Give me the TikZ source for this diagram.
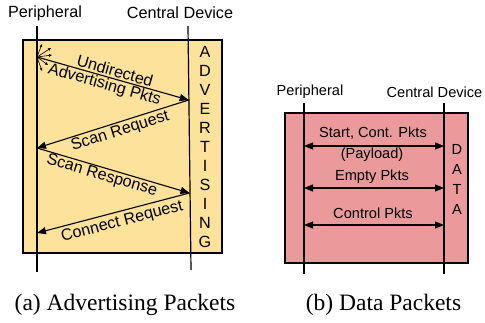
\documentclass[tikz,border=0pt]{standalone}
\usepackage{fontspec}
\setmainfont{Liberation Serif}
\setsansfont{Liberation Sans}
\usetikzlibrary{arrows.meta}
\definecolor{advfill}{HTML}{FDE29C}
\definecolor{datafill}{HTML}{EA9A9A}

\begin{document}
\begin{tikzpicture}[x=1pt,y=-1pt,
  life/.style={line width=1.2pt},
  frame/.style={line width=1.2pt},
  msg/.style={line width=1.1pt,-{Triangle[length=9pt,width=7pt]}},
  both/.style={line width=1.1pt,{Triangle[length=9pt,width=7pt]}-{Triangle[length=9pt,width=7pt]}},
  ray/.style={line width=0.6pt,-{Triangle[length=3pt,width=2.6pt]}},
  lbla/.style={font=\sffamily\fontsize{16.2}{18}\selectfont,inner sep=1.5pt},
  lblb/.style={font=\sffamily\fontsize{14.6}{16}\selectfont,inner sep=1pt},
  captext/.style={font=\fontsize{23.5}{26}\selectfont,inner sep=0pt}]
\useasboundingbox (0,0) rectangle (485,322);

% (a) advertising channel
\fill[advfill] (23,40) rectangle (222,253);
\draw[frame] (23,40) rectangle (222,253);
\node[lbla] (perA) at (45,13) {Peripheral};
\node[lbla] (cenA) at (180,13) {Central Device};
\coordinate (pAtop) at (37,26);
\coordinate (pAbot) at (37,272);
\coordinate (cAtop) at (188,26);
\coordinate (cAbot) at (191,270);
\draw[life] (pAtop) -- (pAbot);
\draw[life] (cAtop) -- (cAbot);
\coordinate (a1) at (37,57);
\coordinate (a2) at (188.7,100);
\coordinate (a3) at (37,148);
\coordinate (a4) at (189.5,193);
\coordinate (a5) at (37,233);
% broadcast burst
\foreach \dx/\dy in {5/-13,14/-9,15/-2,11/8,5/14}
  \draw[ray] (a1) -- ++(\dx,\dy);
\draw[msg] (a1) -- node[lbla,pos=.5,above,sloped] (undir) {Undirected}
  node[lbla,pos=.46,below,sloped,inner sep=0.5pt] (advpk) {Advertising Pkts} (a2);
\draw[msg] (a2) -- node[lbla,pos=.47,below,sloped] (screq) {Scan Request} (a3);
\draw[msg] (a3) -- node[lbla,pos=.44,below,sloped,inner sep=0.5pt] (scrsp) {Scan Response} (a4);
\draw[msg] (a4) -- node[lbla,pos=.46,below,sloped,inner sep=3pt] (conreq) {Connect Request} (a5);
\foreach \c [count=\i from 0] in {A,D,V,E,R,T,I,S,I,N,G}
  \node[lbla] (adv\i) at (205,{52+19*\i}) {\c};
\node[captext] (capA) at (125,305) {(a) Advertising Packets};

% (b) data channel
\fill[datafill] (285,113) rectangle (468,263);
\draw[frame] (285,113) rectangle (468,263);
\node[lblb] (perB) at (310,92) {Peripheral};
\node[lblb] (cenB) at (434.5,92) {Central Device};
\coordinate (pBtop) at (304,103);
\coordinate (pBbot) at (304,274);
\coordinate (cBtop) at (444,103);
\coordinate (cBbot) at (444,274);
\draw[life] (pBtop) -- (pBbot);
\draw[life] (cBtop) -- (cBbot);
\coordinate (b1l) at (304,146);
\coordinate (b1r) at (444,146);
\coordinate (b2l) at (304,188);
\coordinate (b2r) at (444,188);
\coordinate (b3l) at (304,225);
\coordinate (b3r) at (444,225);
\draw[both] (b1l) -- (b1r);
\draw[both] (b2l) -- (b2r);
\draw[both] (b3l) -- (b3r);
\node[lblb] (start) at (373,133) {Start, Cont. Pkts};
\node[lblb] (payld) at (372,155) {(Payload)};
\node[lblb] (empty) at (372,177) {Empty Pkts};
\node[lblb] (ctrl) at (373,213) {Control Pkts};
\foreach \c [count=\i from 0] in {D,A,T,A}
  \node[lblb] (dat\i) at (457,{149+20*\i}) {\c};
\node[captext] (capB) at (383.5,305) {(b) Data Packets};
\end{tikzpicture}
\end{document}
